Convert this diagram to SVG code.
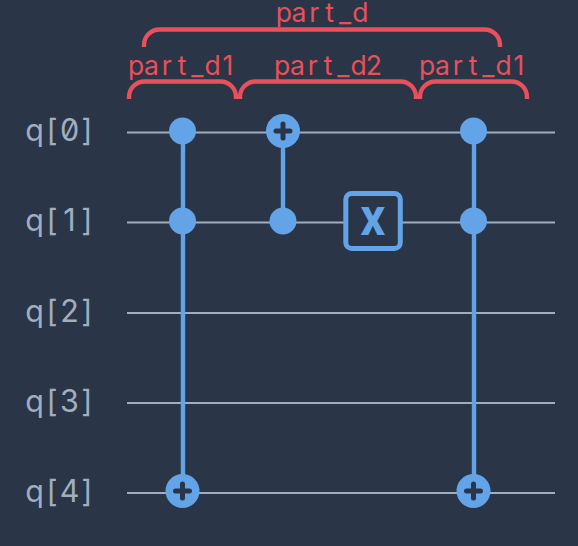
<svg xmlns="http://www.w3.org/2000/svg" width="578" height="546" viewBox="0 0 578 546">
<style>
.wire{stroke:#a0aec0;stroke-width:2;fill:none}
.link{stroke:#63a4e8;stroke-width:4.400;fill:none}
.ctrl{fill:#63a4e8}
.plus{stroke:#2a3547;stroke-width:5;stroke-linecap:round;fill:none}
.brace{stroke:#e9505a;stroke-width:4.400;fill:none}
.lbl{font-family:Inter,Roboto,sans-serif;font-feature-settings:"zero" 1;font-size:30.500px;fill:#a0aec0;text-anchor:middle}
.blbl{font-family:Inter,Roboto,sans-serif;font-size:26.500px;fill:#e9505a;text-anchor:middle}
</style>
<defs>
<g id="plusgate"><circle r="17" class="ctrl"/><path class="plus" d="M-7 0H7M0-7V7"/></g>
</defs>
<rect width="578" height="546" fill="#2a3547"/>
<g id="labels">
<text class="lbl" x="34.700 52.100 69.500 86.900" y="141">q[0]</text>
<text class="lbl" x="34.700 52.100 69.500 86.900" y="231">q[1]</text>
<text class="lbl" x="34.700 52.100 69.500 86.900" y="322">q[2]</text>
<text class="lbl" x="34.700 52.100 69.500 86.900" y="412">q[3]</text>
<text class="lbl" x="34.700 52.100 69.500 86.900" y="502">q[4]</text>
</g>
<g id="wires">
<path class="wire" d="M127 132.500H555"/>
<path class="wire" d="M127 222.500H555"/>
<path class="wire" d="M127 313H555"/>
<path class="wire" d="M127 403H555"/>
<path class="wire" d="M127 493H555"/>
</g>
<g id="connectors">
<path class="link" d="M183 131V491"/>
<path class="link" d="M283 131V221"/>
<path class="link" d="M474 131V491"/>
</g>
<g id="gate-c1"><circle class="ctrl" cx="182.500" cy="131" r="13.500"/><circle class="ctrl" cx="182.500" cy="221" r="13.500"/><use href="#plusgate" x="182.500" y="491"/></g>
<g id="gate-c2"><use href="#plusgate" x="283" y="131"/><circle class="ctrl" cx="283" cy="221" r="13.500"/></g>
<g id="gate-x"><rect x="345.800" y="193.500" width="54.500" height="55" rx="6" fill="#2a3547" stroke="#63a4e8" stroke-width="5"/><text x="373" y="234.500" text-anchor="middle" font-family="Roboto,'Liberation Sans',sans-serif" font-weight="900" font-size="38" fill="#63a4e8">X</text></g>
<g id="gate-c3"><circle class="ctrl" cx="473.500" cy="131" r="13.500"/><circle class="ctrl" cx="473.500" cy="221" r="13.500"/><use href="#plusgate" x="473.500" y="491"/></g>
<g id="brace-d"><path class="brace" d="M144 47V45A15.500 15.500 0 0 1 159.500 29.500H484.500A15.500 15.500 0 0 1 500 45V47"/><text class="blbl" x="283.750 299.050 314.350 329.650 344.950 360.250" y="22">part_d</text></g>
<g id="brace-d1a"><path class="brace" d="M129 99V97A15.500 15.500 0 0 1 144.500 81.500H220.500A15.500 15.500 0 0 1 236 97V99"/><text class="blbl" x="136.100 151.400 166.700 182 197.300 212.600 227.900" y="75">part_d1</text></g>
<g id="brace-d2"><path class="brace" d="M240 99V97A15.500 15.500 0 0 1 255.500 81.500H400.500A15.500 15.500 0 0 1 416 97V99"/><text class="blbl" x="282.100 297.400 312.700 328 343.300 358.600 373.900" y="75">part_d2</text></g>
<g id="brace-d1b"><path class="brace" d="M420 99V97A15.500 15.500 0 0 1 435.500 81.500H511.500A15.500 15.500 0 0 1 527 97V99"/><text class="blbl" x="427.100 442.400 457.700 473 488.300 503.600 518.900" y="75">part_d1</text></g>
</svg>
